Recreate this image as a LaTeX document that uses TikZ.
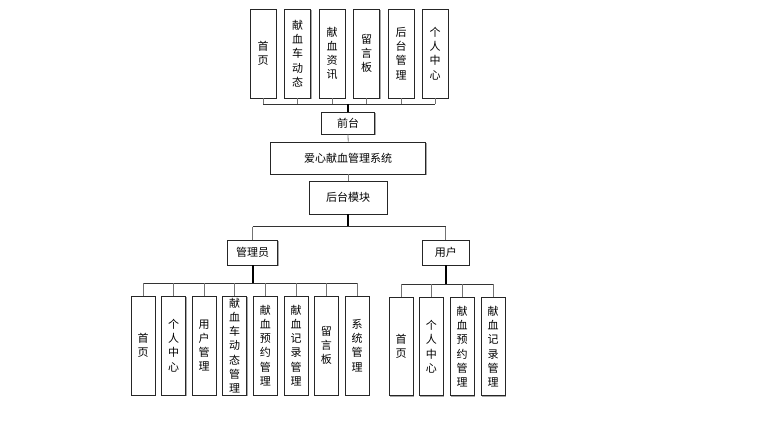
\documentclass[tikz,border=0pt]{standalone}
\usepackage{fontspec}
\newfontfamily\cjk{Noto Sans CJK SC}
\usetikzlibrary{shadows}
\begin{document}
\begin{tikzpicture}[x=1pt,y=-1pt,
  box/.style={draw=black!85, line width=0.8pt, fill=white, inner sep=0pt, align=center,
    font=\cjk\fontsize{11}{14.2}\selectfont,
    drop shadow={shadow xshift=1pt, shadow yshift=-1pt, fill=black!35, opacity=1}},
  vbox/.style={box, minimum width=24pt, minimum height=99pt},
  tbox/.style={box, minimum width=26pt, minimum height=89pt},
  stub/.style={draw=black!55, line width=0.8pt},
  bus/.style={draw=black!80, line width=0.9pt},
  stem/.style={draw=black, line width=1.6pt}]
\useasboundingbox (0,0) rectangle (767,425);
% top row
\node[tbox] (t1) at (263,53.5) {首\\页};
\node[tbox] (t2) at (297.5,53.5) {献\\血\\车\\动\\态};
\node[tbox] (t3) at (332,53.5) {献\\血\\资\\讯};
\node[tbox] (t4) at (366.5,53.5) {留\\言\\板};
\node[tbox] (t5) at (401,53.5) {后\\台\\管\\理};
\node[tbox] (t6) at (435.2,53.5) {个\\人\\中\\心};
\node[box, minimum width=53pt, minimum height=22pt] (qt) at (348,123) {前台};
\node[box, minimum width=155pt, minimum height=32pt] (sys) at (348.2,158) {爱心献血管理系统};
\node[box, minimum width=78pt, minimum height=33pt] (ht) at (348.2,197.5) {后台模块};
\node[box, minimum width=50pt, minimum height=25pt] (gly) at (252.7,252.5) {管理员};
\node[box, minimum width=47pt, minimum height=25pt] (yh) at (445.8,252.5) {用户};
% admin children
\node[vbox] (a1) at (143,345.5) {首\\页};
\node[vbox] (a2) at (173.7,345.5) {个\\人\\中\\心};
\node[vbox] (a3) at (204,345.5) {用\\户\\管\\理};
\node[vbox] (a4) at (234.7,345.5) {献\\血\\车\\动\\态\\管\\理};
\node[vbox] (a5) at (265.3,345.5) {献\\血\\预\\约\\管\\理};
\node[vbox] (a6) at (296,345.5) {献\\血\\记\\录\\管\\理};
\node[vbox] (a7) at (326.3,345.5) {留\\言\\板};
\node[vbox] (a8) at (357.2,345.5) {系\\统\\管\\理};
% user children
\node[vbox, minimum height=98pt] (u1) at (401,346.7) {首\\页};
\node[vbox, minimum height=98pt] (u2) at (431.3,346.7) {个\\人\\中\\心};
\node[vbox, minimum height=98pt] (u3) at (462,346.7) {献\\血\\预\\约\\管\\理};
\node[vbox, minimum height=98pt] (u4) at (493,346.7) {献\\血\\记\\录\\管\\理};
% bus coordinates
\coordinate (tb) at (348,104);
\coordinate (mb) at (348.2,226.7);
\coordinate (ab) at (252.7,283.3);
\coordinate (ub) at (445.8,284);
% top connectors
\foreach \n in {t1,t2,t3,t4,t5,t6} \draw[stub] (\n.south) -- (\n.south |- tb);
\draw[bus] (t1.south |- tb) -- (t6.south |- tb);
\draw[stem] (qt.north |- tb) -- (qt.north);
\draw[stub] (qt.south) -- (sys.north);
\draw[stub] (sys.south) -- (ht.north);
\draw[stem] (ht.south) -- (mb);
\draw[bus] (gly.north |- mb) -- (yh.north |- mb);
\draw[stub] (gly.north |- mb) -- (gly.north);
\draw[stub] (yh.north |- mb) -- (yh.north);
% admin connectors
\draw[stem] (gly.south) -- (ab);
\draw[bus] (a1.north |- ab) -- (a8.north |- ab);
\foreach \n in {a1,a2,a3,a4,a5,a6,a7,a8} \draw[stub] (\n.north |- ab) -- (\n.north);
% user connectors
\draw[stem] (yh.south) -- (ub);
\draw[bus] (u1.north |- ub) -- (u4.north |- ub);
\foreach \n in {u1,u2,u3,u4} \draw[stub] (\n.north |- ub) -- (\n.north);
\end{tikzpicture}
\end{document}
